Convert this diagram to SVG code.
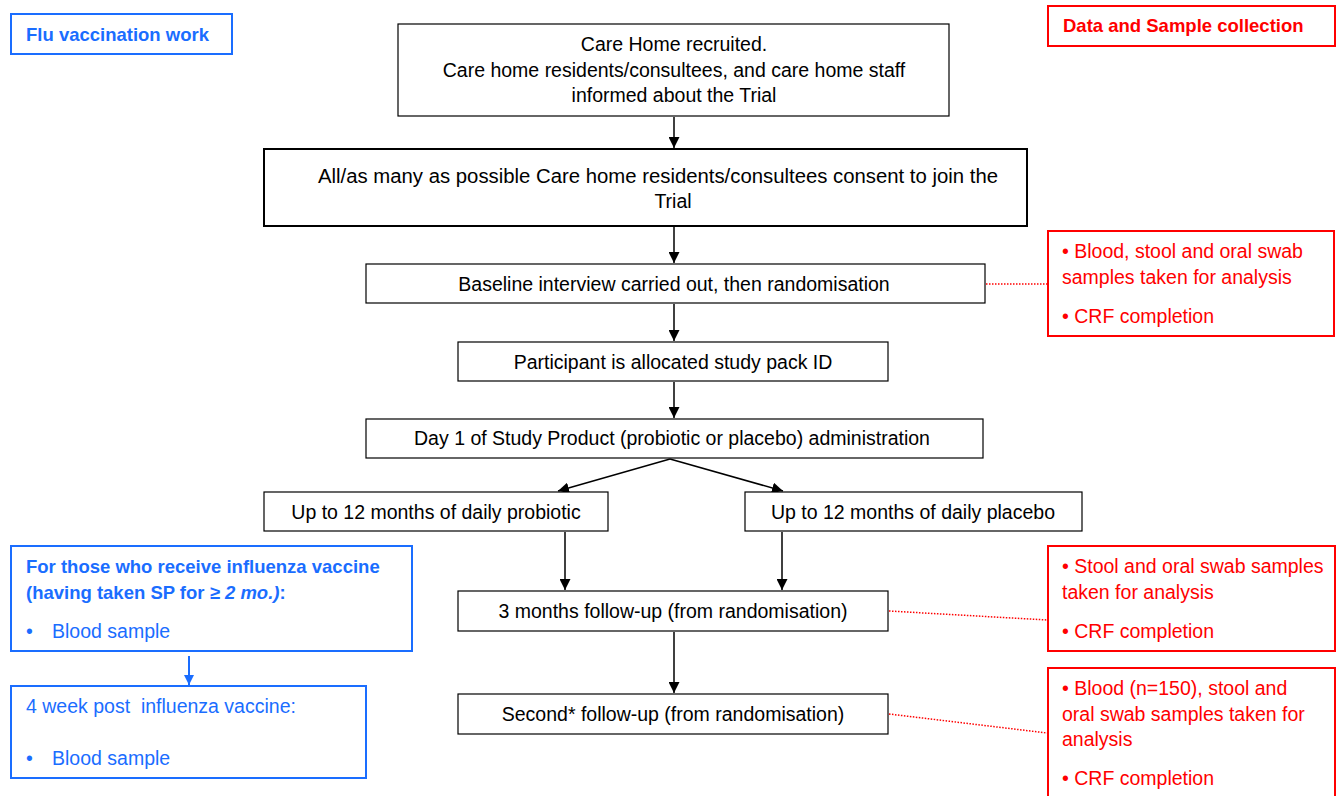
<svg xmlns="http://www.w3.org/2000/svg" width="1343" height="796" viewBox="0 0 1343 796">
  <defs>
    <style>
      text { font-family: "Liberation Sans", Arial, sans-serif; font-size: 19.5px; }
      .box { fill: #fff; stroke: #000; stroke-width: 1.2; }
      .thick { stroke-width: 2; }
      .blk { fill: #000; text-anchor: middle; }
      .red { fill: #ff0000; }
      .blue { fill: #1a6dff; }
      .rbox { fill: #fff; stroke: #ff0000; stroke-width: 2; }
      .bbox { fill: #fff; stroke: #1a6dff; stroke-width: 2; }
      .b { font-weight: bold; font-size: 18.5px; }
      .flow { stroke: #000; stroke-width: 1.5; fill: none; marker-end: url(#ah); }
      .dot { stroke: #ff0000; stroke-width: 1.5; stroke-dasharray: 1.5 1.5; fill: none; }
      .bflow { stroke: #1a6dff; stroke-width: 2; fill: none; marker-end: url(#bh); }
    </style>
    <marker id="ah" viewBox="0 0 10 10" refX="10" refY="5" markerWidth="11" markerHeight="11" markerUnits="userSpaceOnUse" orient="auto">
      <path d="M0,0 L10,5 L0,10 z" fill="#000"/>
    </marker>
    <marker id="bh" viewBox="0 0 10 10" refX="10" refY="5" markerWidth="10" markerHeight="10" markerUnits="userSpaceOnUse" orient="auto">
      <path d="M0,0 L10,5 L0,10 z" fill="#1a6dff"/>
    </marker>
  </defs>
  <rect width="1343" height="796" fill="#fff"/>

  <!-- connectors -->
  <g id="connectors">
    <line class="flow" x1="674" y1="117" x2="674" y2="148"/>
    <line class="flow" x1="674" y1="227" x2="674" y2="263"/>
    <line class="flow" x1="674" y1="304" x2="674" y2="341"/>
    <line class="flow" x1="674" y1="382" x2="674" y2="418"/>
    <line class="flow" x1="670" y1="459" x2="558" y2="491"/>
    <line class="flow" x1="670" y1="459" x2="783" y2="491"/>
    <line class="flow" x1="565" y1="532" x2="565" y2="590"/>
    <line class="flow" x1="782" y1="532" x2="782" y2="590"/>
    <line class="flow" x1="674" y1="632" x2="674" y2="693"/>
    <line class="dot" x1="986" y1="284" x2="1047" y2="284"/>
    <line class="dot" x1="889" y1="611" x2="1047" y2="620"/>
    <line class="dot" x1="889" y1="714" x2="1047" y2="733"/>
    <line class="bflow" x1="189" y1="656" x2="189" y2="685"/>
  </g>

  <g id="flu-title">
    <rect class="bbox" x="11" y="14" width="221" height="40"/>
    <text class="blue b" x="26" y="41">Flu vaccination work</text>
  </g>

  <g id="data-title">
    <rect class="rbox" x="1048" y="6" width="287" height="40"/>
    <text class="red b" x="1063" y="32">Data and Sample collection</text>
  </g>

  <g id="recruited">
    <rect class="box" x="398" y="24" width="551" height="92" stroke="#555"/>
    <text class="blk" x="674" y="51">Care Home recruited.</text>
    <text class="blk" x="674" y="77">Care home residents/consultees, and care home staff</text>
    <text class="blk" x="674" y="102">informed about the Trial</text>
  </g>

  <g id="consent">
    <rect class="box thick" x="264" y="149" width="763" height="77"/>
    <text class="blk" x="658" y="183" textLength="680" lengthAdjust="spacingAndGlyphs">All/as many as possible Care home residents/consultees consent to join the</text>
    <text class="blk" x="673" y="208">Trial</text>
  </g>

  <g id="baseline">
    <rect class="box" x="366" y="264" width="619" height="39"/>
    <text class="blk" x="674" y="291">Baseline interview carried out, then randomisation</text>
  </g>

  <g id="baseline-samples">
    <rect class="rbox" x="1048" y="231" width="286" height="105"/>
    <text class="red" x="1062" y="258">• Blood, stool and oral swab</text>
    <text class="red" x="1062" y="284">samples taken for analysis</text>
    <text class="red" x="1062" y="323">• CRF completion</text>
  </g>

  <g id="pack-id">
    <rect class="box" x="458" y="342" width="430" height="39"/>
    <text class="blk" x="673" y="369">Participant is allocated study pack ID</text>
  </g>

  <g id="day1">
    <rect class="box" x="366" y="419" width="617" height="39"/>
    <text class="blk" x="672" y="445">Day 1 of Study Product (probiotic or placebo) administration</text>
  </g>

  <g id="probiotic">
    <rect class="box" x="264" y="492" width="344" height="39"/>
    <text class="blk" x="436" y="519">Up to 12 months of daily probiotic</text>
  </g>

  <g id="placebo">
    <rect class="box" x="745" y="492" width="337" height="39"/>
    <text class="blk" x="913" y="519">Up to 12 months of daily placebo</text>
  </g>

  <g id="followup-3m">
    <rect class="box" x="458" y="591" width="430" height="40" stroke-width="1.6"/>
    <text class="blk" x="673" y="618">3 months follow-up (from randomisation)</text>
  </g>

  <g id="followup-3m-samples">
    <rect class="rbox" x="1048" y="546" width="287" height="105"/>
    <text class="red" x="1062" y="573">• Stool and oral swab samples</text>
    <text class="red" x="1062" y="599">taken for analysis</text>
    <text class="red" x="1062" y="638">• CRF completion</text>
  </g>

  <g id="followup-2">
    <rect class="box" x="458" y="694" width="430" height="40" stroke-width="1.6"/>
    <text class="blk" x="673" y="721">Second* follow-up (from randomisation)</text>
  </g>

  <g id="followup-2-samples">
    <rect class="rbox" x="1048" y="668" width="287" height="140"/>
    <text class="red" x="1062" y="695">• Blood (n=150), stool and</text>
    <text class="red" x="1062" y="721">oral swab samples taken for</text>
    <text class="red" x="1062" y="746">analysis</text>
    <text class="red" x="1062" y="785">• CRF completion</text>
  </g>

  <g id="flu-vaccine">
    <rect class="bbox" x="11" y="546" width="401" height="105"/>
    <text class="blue b" x="26" y="573">For those who receive influenza vaccine</text>
    <text class="blue b" x="26" y="599">(having taken SP for <tspan font-style="italic">≥ 2 mo.)</tspan>:</text>
    <text class="blue" x="26" y="638">•</text>
    <text class="blue" x="52" y="638">Blood sample</text>
  </g>

  <g id="post-vaccine">
    <rect class="bbox" x="11" y="686" width="355" height="92"/>
    <text class="blue" x="26" y="713">4 week post&#160; influenza vaccine:</text>
    <text class="blue" x="26" y="765">•</text>
    <text class="blue" x="52" y="765">Blood sample</text>
  </g>
</svg>
